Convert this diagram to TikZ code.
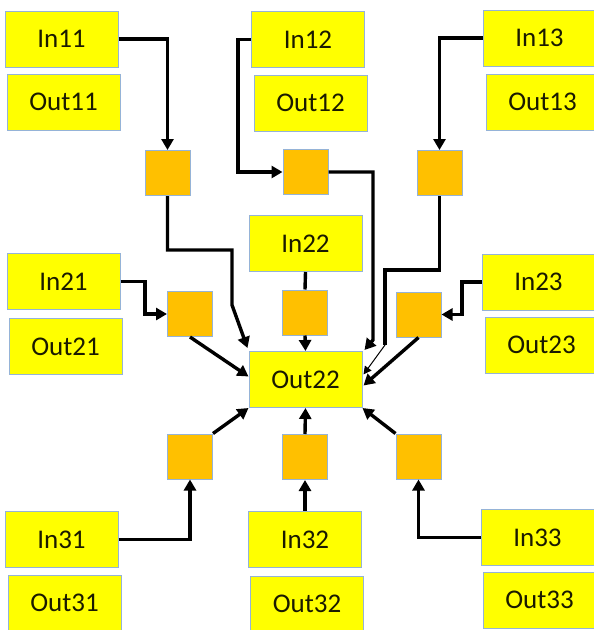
\documentclass[tikz,border=0pt]{standalone}
\usepackage{fontspec}
\setmainfont{Carlito}
\usetikzlibrary{arrows.meta}
\definecolor{ybox}{HTML}{FFFF00}
\definecolor{obox}{HTML}{FFC000}
\definecolor{bline}{HTML}{95B3D7}
\definecolor{txt}{HTML}{1A1A00}
\begin{document}
\begin{tikzpicture}[x=1pt,y=-1pt,
  ybx/.style={draw=bline,line width=1pt,fill=ybox,minimum width=113pt,minimum height=56pt,inner sep=0pt,text=txt,font=\fontsize{27}{30}\selectfont},
  obx/.style={draw=bline,line width=1pt,fill=obox,minimum width=45pt,minimum height=45pt,inner sep=0pt},
  conn/.style={line width=3.4pt,line join=miter},
  arr/.style={conn,-{Triangle[length=11pt,width=12pt]}},
  thinarr/.style={line width=1pt,-{Triangle[length=8pt,width=8pt]}}]
\useasboundingbox (0,0) rectangle (594,630);
% yellow boxes
\node[ybx] (In11) at (61.5,39) {In11};
\node[ybx] (Out11) at (63.5,102) {Out11};
\node[ybx] (In12) at (308,39.5) {In12};
\node[ybx] (Out12) at (310.5,103) {Out12};
\node[ybx] (In13) at (539.5,38) {In13};
\node[ybx] (Out13) at (542.5,102) {Out13};
\node[ybx] (In21) at (63.5,281.5) {In21};
\node[ybx] (Out21) at (65.5,346.5) {Out21};
\node[ybx] (In22) at (305.5,243.5) {In22};
\node[ybx] (Out22) at (305.5,379.5) {Out22};
\node[ybx] (In23) at (538.5,282) {In23};
\node[ybx] (Out23) at (541.5,345) {Out23};
\node[ybx] (In31) at (61.5,539.5) {In31};
\node[ybx] (Out31) at (64.5,603) {Out31};
\node[ybx] (In32) at (305,539.5) {In32};
\node[ybx] (Out32) at (307,604) {Out32};
\node[ybx] (In33) at (537.5,537.5) {In33};
\node[ybx] (Out33) at (539.5,600) {Out33};
% orange squares
\node[obx] (S11) at (167.5,173) {};
\node[obx] (S12) at (305.5,172) {};
\node[obx] (S13) at (439.5,173) {};
\node[obx] (S21) at (190,314) {};
\node[obx] (S22) at (305,312.5) {};
\node[obx] (S23) at (418.5,314.5) {};
\node[obx] (S31) at (190,456.5) {};
\node[obx] (S32) at (305,457) {};
\node[obx] (S33) at (418.5,456.5) {};
% coordinates for bends
\coordinate (b12) at (238,39.5);
\coordinate (b11a) at (167.5,250);
\coordinate (b11b) at (232,250);
\coordinate (b11c) at (232,305);
\coordinate (b12a) at (373,172);
\coordinate (b12b) at (373,340);
\coordinate (b13a) at (439.5,270);
\coordinate (b13b) at (385,270);
\coordinate (b13c) at (385,345);
\coordinate (b21) at (145,281.5);
\coordinate (b23) at (462,282);
% connectors
\draw[arr] (In11.east) -| (S11.north);
\draw[arr] (In12.west) -- (b12) |- (S12.west);
\draw[arr] (In13.west) -| (S13.north);
\draw[arr] (S11.south) -- (b11a) -- (b11b) -- (b11c) -- ([xshift=-1pt,yshift=3pt]Out22.north west);
\draw[arr] (S12.east) -- (b12a) -- (b12b) -- ([xshift=2pt,yshift=1pt]Out22.north east);
\draw[conn] (S13.south) -- (b13a) -- (b13b) -- (b13c);
\draw[thinarr] (b13c) -- ([xshift=1pt,yshift=5pt]Out22.east);
\draw[arr] (In21.east) -- (b21) |- (S21.west);
\draw[conn] (In22.south) -- (S22.north);
\draw[arr] (S22.south) -- (Out22.north);
\draw[arr] (In23.west) -- (b23) |- (S23.east);
\draw[arr] (S21.south) -- ([yshift=3pt]Out22.west);
\draw[arr] (S23.south) -- ([xshift=1pt,yshift=-6pt]Out22.east);
\draw[arr] (S31.north east) -- (Out22.south west);
\draw[arr] (S32.north) -- (Out22.south);
\draw[arr] (S33.north west) -- (Out22.south east);
\draw[arr] (In31.east) -| (S31.south);
\draw[arr] (In32.north) -- (S32.south);
\draw[arr] (In33.west) -| (S33.south);
\end{tikzpicture}
\end{document}
